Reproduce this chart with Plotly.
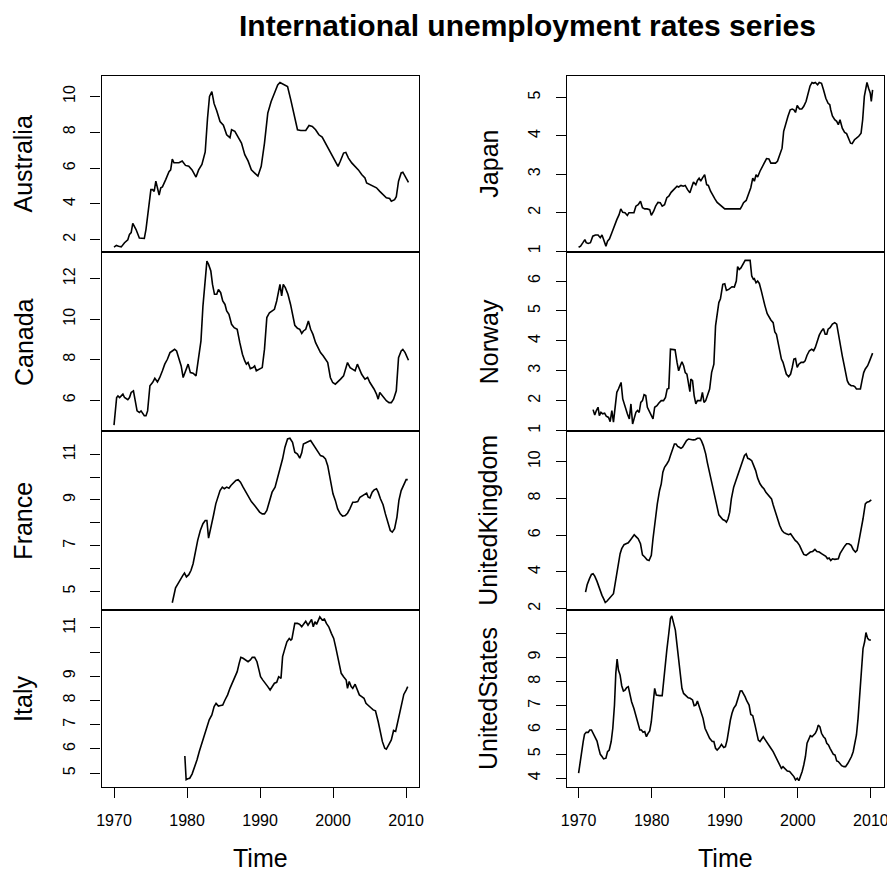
import plotly.graph_objects as go

title_text = "International unemployment rates series"
x_label = "Time"
x_ticks = [1970, 1980, 1990, 2000, 2010]

# ---------------- data (year, rate) ----------------
australia_t = [1970.00, 1970.32, 1970.63, 1970.99, 1971.44, 1971.89, 1972.12, 1972.35, 1972.57, 1973.02,
               1973.47, 1974.15, 1974.38, 1974.83, 1975.05, 1975.28, 1975.50, 1975.73, 1975.95, 1976.18,
               1976.41, 1976.63, 1977.08, 1977.53, 1977.76, 1977.98, 1978.21, 1978.89, 1979.34, 1979.79,
               1980.24, 1980.69, 1981.23, 1981.59, 1982.04, 1982.49, 1982.81, 1983.08, 1983.40, 1983.71,
               1984.07, 1984.52, 1984.98, 1985.43, 1985.88, 1986.10, 1986.55, 1987.00, 1987.46, 1987.91,
               1988.36, 1988.81, 1989.49, 1989.71, 1990.16, 1990.61, 1991.06, 1991.52, 1991.97, 1992.42,
               1992.73, 1993.32, 1993.77, 1994.22, 1994.68, 1995.13, 1995.58, 1996.26, 1996.71, 1997.16,
               1997.61, 1998.06, 1998.51, 1998.96, 1999.41, 1999.86, 2000.31, 2000.68, 2000.99, 2001.44,
               2001.75, 2002.11, 2002.56, 2003.02, 2003.47, 2003.92, 2004.37, 2004.60, 2005.05, 2005.50,
               2005.95, 2006.40, 2006.85, 2007.30, 2007.75, 2007.98, 2008.43, 2008.66, 2008.97, 2009.33,
               2009.56, 2010.01, 2010.33]
australia_v = [1.59, 1.68, 1.64, 1.60, 1.83, 2.00, 2.30, 2.40, 2.91, 2.57,
               2.10, 2.07, 2.58, 4.24, 4.80, 4.80, 4.70, 5.27, 4.90, 4.50,
               4.90, 4.95, 5.36, 5.80, 5.90, 6.50, 6.30, 6.30, 6.40, 6.15,
               6.10, 5.90, 5.50, 5.90, 6.20, 6.90, 8.80, 10.00, 10.27, 9.60,
               9.20, 8.60, 8.40, 7.86, 7.70, 8.14, 8.05, 7.70, 7.40, 6.75,
               6.40, 5.90, 5.64, 5.55, 6.10, 7.40, 9.07, 9.72, 10.18, 10.65,
               10.78, 10.65, 10.55, 9.80, 8.90, 8.14, 8.10, 8.10, 8.38, 8.33,
               8.14, 7.86, 7.73, 7.40, 7.03, 6.75, 6.38, 6.10, 6.38, 6.84,
               6.88, 6.56, 6.29, 6.10, 5.90, 5.64, 5.45, 5.17, 5.08, 5.00,
               4.90, 4.70, 4.52, 4.34, 4.30, 4.15, 4.24, 4.40, 5.27, 5.73,
               5.77, 5.45, 5.20]

canada_t = [1970.00, 1970.18, 1970.36, 1970.54, 1970.77, 1970.99, 1971.22, 1971.44, 1971.89, 1972.12,
            1972.35, 1972.66, 1972.89, 1973.16, 1973.47, 1973.70, 1974.15, 1974.38, 1974.60, 1974.92,
            1975.28, 1975.59, 1975.95, 1976.27, 1976.63, 1976.95, 1977.31, 1977.67, 1977.98, 1978.30,
            1978.57, 1978.89, 1979.20, 1979.47, 1979.79, 1980.15, 1980.46, 1980.83, 1981.23, 1981.50,
            1981.91, 1982.18, 1982.49, 1982.72, 1982.95, 1983.26, 1983.49, 1983.76, 1984.07, 1984.30,
            1984.61, 1984.89, 1985.20, 1985.43, 1985.74, 1986.10, 1986.46, 1986.87, 1987.23, 1987.59,
            1987.91, 1988.13, 1988.36, 1988.67, 1989.03, 1989.26, 1989.49, 1989.94, 1990.30, 1990.61,
            1990.93, 1991.29, 1991.65, 1991.97, 1992.28, 1992.55, 1992.73, 1992.96, 1993.18, 1993.46,
            1993.82, 1994.18, 1994.45, 1994.76, 1995.13, 1995.44, 1995.71, 1995.94, 1996.26, 1996.62,
            1996.93, 1997.25, 1997.61, 1997.97, 1998.28, 1998.64, 1998.96, 1999.27, 1999.63, 1999.95,
            2000.31, 2000.68, 2001.03, 2001.44, 2001.67, 2001.98, 2002.34, 2002.70, 2003.02, 2003.33,
            2003.56, 2003.92, 2004.37, 2004.73, 2005.05, 2005.36, 2005.63, 2005.95, 2006.18, 2006.40,
            2006.72, 2006.99, 2007.30, 2007.66, 2007.98, 2008.29, 2008.66, 2008.97, 2009.33, 2009.56,
            2009.87, 2010.33]
canada_v = [4.77, 5.56, 6.13, 6.21, 6.13, 6.21, 6.30, 6.13, 6.02, 6.13,
            6.38, 6.46, 5.97, 5.47, 5.39, 5.47, 5.23, 5.23, 5.47, 6.71,
            6.87, 7.08, 6.90, 7.12, 7.45, 7.78, 8.02, 8.35, 8.43, 8.51,
            8.43, 8.10, 7.69, 7.12, 7.45, 7.78, 7.36, 7.33, 7.20, 7.86,
            8.93, 10.65, 12.13, 12.87, 12.71, 12.38, 11.72, 11.23, 11.23, 11.47,
            11.31, 10.90, 10.73, 10.41, 10.24, 9.75, 9.58, 9.50, 8.84, 8.27,
            7.94, 7.78, 7.86, 7.56, 7.61, 7.69, 7.45, 7.56, 7.61, 8.52,
            10.08, 10.32, 10.41, 10.49, 10.90, 11.47, 11.72, 11.15, 11.72, 11.56,
            11.23, 10.73, 10.24, 9.70, 9.55, 9.50, 9.30, 9.42, 9.50, 9.91,
            9.50, 9.25, 8.84, 8.60, 8.35, 8.19, 8.02, 7.86, 7.12, 6.87,
            6.79, 6.90, 7.04, 7.20, 7.53, 7.86, 7.61, 7.53, 7.45, 7.78,
            7.61, 7.28, 7.04, 7.12, 6.87, 6.71, 6.54, 6.30, 6.05, 6.38,
            6.25, 6.13, 5.97, 5.88, 5.88, 6.05, 6.46, 8.10, 8.43, 8.51,
            8.35, 7.97]

france_t = [1977.98, 1978.21, 1978.43, 1978.75, 1979.11, 1979.43, 1979.65, 1979.92, 1980.24, 1980.55,
            1980.83, 1981.14, 1981.46, 1981.82, 1982.18, 1982.49, 1982.72, 1982.95, 1983.26, 1983.62,
            1983.94, 1984.21, 1984.52, 1984.84, 1985.11, 1985.43, 1985.74, 1986.01, 1986.33, 1986.69,
            1987.00, 1987.32, 1987.68, 1988.04, 1988.36, 1988.81, 1989.26, 1989.62, 1989.94, 1990.30,
            1990.61, 1990.93, 1991.29, 1991.65, 1992.06, 1992.42, 1992.73, 1993.09, 1993.41, 1993.77,
            1994.09, 1994.45, 1994.76, 1995.13, 1995.44, 1995.71, 1995.94, 1996.26, 1996.57, 1996.93,
            1997.25, 1997.61, 1997.97, 1998.28, 1998.64, 1998.96, 1999.27, 1999.63, 1999.99, 2000.31,
            2000.63, 2000.99, 2001.30, 2001.67, 2001.98, 2002.30, 2002.70, 2003.02, 2003.38, 2003.69,
            2004.01, 2004.37, 2004.60, 2004.82, 2005.05, 2005.36, 2005.63, 2005.95, 2006.18, 2006.49,
            2006.85, 2007.17, 2007.53, 2007.84, 2008.11, 2008.43, 2008.75, 2009.02, 2009.33, 2009.69,
            2010.01, 2010.23]
france_v = [4.50, 4.83, 5.15, 5.33, 5.55, 5.70, 5.80, 5.63, 5.73, 5.92,
            6.21, 6.72, 7.23, 7.66, 7.96, 8.10, 8.10, 7.33, 7.74, 8.32,
            8.83, 9.12, 9.41, 9.56, 9.49, 9.56, 9.51, 9.63, 9.73, 9.85,
            9.89, 9.78, 9.56, 9.34, 9.15, 8.93, 8.76, 8.61, 8.47, 8.39,
            8.39, 8.54, 8.90, 9.34, 9.56, 9.99, 10.29, 10.80, 11.31, 11.67,
            11.70, 11.52, 11.09, 11.01, 10.83, 11.06, 11.45, 11.52, 11.55, 11.60,
            11.45, 11.26, 11.09, 10.94, 10.90, 10.80, 10.50, 9.85, 9.27, 8.98,
            8.61, 8.39, 8.29, 8.32, 8.42, 8.61, 8.90, 8.90, 8.93, 9.12,
            9.19, 9.27, 9.30, 9.12, 9.09, 9.34, 9.44, 9.49, 9.34, 9.05,
            8.79, 8.39, 7.96, 7.66, 7.59, 7.74, 8.25, 8.98, 9.41, 9.70,
            9.89, 9.89]

italy_t = [1979.70, 1979.88, 1980.10, 1980.37, 1980.69, 1981.01, 1981.37, 1981.68, 1982.04, 1982.36,
           1982.72, 1983.04, 1983.40, 1983.71, 1983.98, 1984.30, 1984.61, 1984.89, 1985.20, 1985.56,
           1985.88, 1986.24, 1986.55, 1986.87, 1987.14, 1987.37, 1987.68, 1988.04, 1988.36, 1988.67,
           1988.94, 1989.26, 1989.58, 1989.85, 1990.07, 1990.39, 1990.75, 1991.06, 1991.38, 1991.65,
           1991.97, 1992.28, 1992.55, 1992.87, 1993.09, 1993.41, 1993.68, 1994.00, 1994.22, 1994.36,
           1994.58, 1994.76, 1995.13, 1995.44, 1995.71, 1996.03, 1996.26, 1996.57, 1996.84, 1997.06,
           1997.29, 1997.52, 1997.74, 1997.97, 1998.19, 1998.51, 1998.82, 1999.09, 1999.41, 1999.77,
           2000.09, 2000.40, 2000.76, 2001.12, 2001.44, 2001.80, 2001.98, 2002.21, 2002.48, 2002.70,
           2003.02, 2003.33, 2003.60, 2003.92, 2004.24, 2004.51, 2004.82, 2005.18, 2005.50, 2005.81,
           2006.18, 2006.49, 2006.76, 2007.08, 2007.30, 2007.62, 2007.98, 2008.29, 2008.57, 2008.79,
           2009.11, 2009.42, 2009.69, 2010.01, 2010.23]
italy_v = [5.71, 4.73, 4.77, 4.79, 4.96, 5.23, 5.55, 5.89, 6.24, 6.58,
           6.85, 7.20, 7.40, 7.75, 7.88, 7.77, 7.79, 7.81, 8.02, 8.23,
           8.50, 8.78, 9.00, 9.19, 9.53, 9.78, 9.74, 9.67, 9.60, 9.67,
           9.78, 9.78, 9.60, 9.26, 8.98, 8.84, 8.71, 8.57, 8.43, 8.54,
           8.71, 8.75, 8.98, 8.91, 9.81, 10.15, 10.42, 10.56, 10.49, 10.53,
           10.97, 11.18, 11.18, 11.14, 11.04, 11.18, 11.27, 11.11, 11.22, 11.34,
           11.04, 11.25, 11.14, 11.27, 11.45, 11.32, 11.36, 11.18, 11.04, 10.77,
           10.56, 10.15, 9.60, 9.12, 8.98, 8.84, 8.50, 8.78, 8.57, 8.50,
           8.67, 8.43, 8.23, 8.16, 8.09, 7.88, 7.81, 7.70, 7.61, 7.57,
           7.13, 6.65, 6.30, 6.03, 5.99, 6.17, 6.37, 6.76, 6.72, 7.02,
           7.47, 7.81, 8.25, 8.43, 8.57]

japan_t = [1970.00, 1970.27, 1970.59, 1970.86, 1971.04, 1971.31, 1971.62, 1971.94, 1972.30, 1972.66,
           1972.97, 1973.20, 1973.42, 1973.74, 1973.96, 1974.23, 1974.55, 1974.91, 1975.23, 1975.54,
           1975.77, 1976.04, 1976.35, 1976.67, 1976.89, 1977.25, 1977.57, 1977.84, 1978.15, 1978.47,
           1978.74, 1979.05, 1979.37, 1979.73, 1979.95, 1980.27, 1980.54, 1980.86, 1981.17, 1981.44,
           1981.76, 1982.07, 1982.34, 1982.66, 1982.97, 1983.24, 1983.47, 1983.69, 1984.01, 1984.32,
           1984.59, 1984.91, 1985.23, 1985.45, 1985.72, 1986.04, 1986.26, 1986.49, 1986.71, 1986.94,
           1987.25, 1987.52, 1987.75, 1988.06, 1988.38, 1988.65, 1988.96, 1989.28, 1989.64, 1990.00,
           1990.32, 1990.77, 1991.22, 1991.67, 1992.12, 1992.34, 1992.57, 1992.93, 1993.24, 1993.56,
           1993.83, 1994.05, 1994.28, 1994.50, 1994.82, 1995.14, 1995.41, 1995.72, 1996.04, 1996.31,
           1996.62, 1996.94, 1997.21, 1997.52, 1997.84, 1998.06, 1998.33, 1998.65, 1998.96, 1999.23,
           1999.46, 1999.68, 1999.91, 2000.23, 2000.54, 2000.81, 2001.13, 2001.44, 2001.67, 2001.94,
           2002.16, 2002.39, 2002.70, 2002.93, 2003.24, 2003.51, 2003.83, 2004.14, 2004.37, 2004.50,
           2004.73, 2005.05, 2005.32, 2005.54, 2005.77, 2006.08, 2006.40, 2006.67, 2006.89, 2007.21,
           2007.43, 2007.75, 2008.02, 2008.33, 2008.65, 2008.87, 2009.10, 2009.32, 2009.46, 2009.68,
           2009.91, 2010.05, 2010.23]
japan_v = [1.10, 1.13, 1.22, 1.30, 1.22, 1.20, 1.22, 1.39, 1.42, 1.42,
           1.35, 1.42, 1.30, 1.13, 1.26, 1.32, 1.48, 1.69, 1.82, 1.95,
           2.10, 2.01, 2.00, 1.93, 2.00, 2.00, 2.00, 2.17, 2.21, 2.30,
           2.13, 2.10, 2.10, 2.08, 1.93, 2.04, 2.17, 2.27, 2.26, 2.17,
           2.21, 2.39, 2.43, 2.53, 2.60, 2.65, 2.69, 2.67, 2.71, 2.69,
           2.71, 2.60, 2.52, 2.65, 2.80, 2.73, 2.84, 2.90, 2.82, 2.90,
           2.99, 2.73, 2.71, 2.56, 2.47, 2.36, 2.27, 2.21, 2.17, 2.10,
           2.10, 2.10, 2.10, 2.10, 2.10, 2.17, 2.26, 2.32, 2.47, 2.65,
           2.90, 2.82, 2.99, 2.93, 3.08, 3.21, 3.31, 3.41, 3.40, 3.29,
           3.29, 3.29, 3.34, 3.51, 3.68, 4.12, 4.33, 4.51, 4.68, 4.70,
           4.68, 4.61, 4.79, 4.70, 4.70, 4.77, 4.90, 5.11, 5.30, 5.39,
           5.37, 5.39, 5.33, 5.39, 5.37, 5.20, 4.98, 4.85, 4.81, 4.68,
           4.52, 4.42, 4.38, 4.29, 4.42, 4.20, 4.09, 4.06, 3.94, 3.81,
           3.80, 3.90, 3.94, 3.99, 4.07, 4.42, 5.03, 5.29, 5.39, 5.24,
           5.11, 4.90, 5.20]

norway_t = [1971.98, 1972.21, 1972.43, 1972.66, 1972.84, 1973.06, 1973.29, 1973.56, 1973.78, 1974.10,
            1974.32, 1974.55, 1974.77, 1975.00, 1975.23, 1975.45, 1975.68, 1975.81, 1976.04, 1976.35,
            1976.67, 1976.94, 1977.16, 1977.39, 1977.61, 1977.84, 1978.06, 1978.29, 1978.51, 1978.74,
            1978.96, 1979.19, 1979.41, 1979.64, 1979.86, 1980.18, 1980.41, 1980.72, 1980.99, 1981.31,
            1981.62, 1981.89, 1982.12, 1982.34, 1982.57, 1982.88, 1983.20, 1983.47, 1983.69, 1983.92,
            1984.14, 1984.37, 1984.59, 1984.82, 1985.00, 1985.23, 1985.36, 1985.59, 1985.81, 1986.04,
            1986.26, 1986.49, 1986.71, 1986.94, 1987.16, 1987.39, 1987.61, 1987.93, 1988.20, 1988.51,
            1988.74, 1988.96, 1989.19, 1989.41, 1989.73, 1990.00, 1990.23, 1990.54, 1990.77, 1990.99,
            1991.31, 1991.58, 1991.76, 1991.98, 1992.21, 1992.48, 1992.79, 1993.11, 1993.47, 1993.69,
            1993.92, 1994.05, 1994.28, 1994.50, 1994.73, 1994.95, 1995.18, 1995.50, 1995.81, 1996.08,
            1996.31, 1996.62, 1996.85, 1997.07, 1997.30, 1997.52, 1997.75, 1997.97, 1998.20, 1998.42,
            1998.74, 1999.01, 1999.23, 1999.46, 1999.68, 1999.91, 2000.14, 2000.45, 2000.77, 2000.99,
            2001.26, 2001.58, 2001.89, 2002.16, 2002.39, 2002.70, 2002.93, 2003.24, 2003.51, 2003.74,
            2003.96, 2004.14, 2004.41, 2004.73, 2005.05, 2005.32, 2005.54, 2005.86, 2006.08, 2006.31,
            2006.53, 2006.76, 2006.98, 2007.30, 2007.57, 2007.79, 2008.02, 2008.33, 2008.56, 2008.78,
            2009.01, 2009.23, 2009.55, 2009.82, 2010.05, 2010.23]
norway_v = [1.70, 1.52, 1.67, 1.78, 1.50, 1.61, 1.56, 1.58, 1.48, 1.44,
            1.30, 1.67, 1.28, 1.83, 2.28, 2.39, 2.56, 2.61, 2.06, 1.78,
            1.56, 1.39, 1.89, 1.22, 1.39, 1.61, 1.67, 1.61, 1.94, 2.00,
            2.20, 2.17, 1.78, 1.67, 1.56, 1.39, 1.78, 1.83, 1.92, 2.00,
            2.00, 2.11, 2.39, 2.41, 3.72, 3.70, 3.70, 3.28, 3.00, 3.17,
            3.30, 3.17, 2.94, 2.89, 2.61, 2.30, 2.72, 2.67, 2.17, 1.89,
            2.00, 2.00, 2.00, 2.28, 1.94, 2.00, 2.17, 2.39, 2.94, 3.22,
            4.50, 4.83, 5.28, 5.41, 5.89, 5.91, 5.69, 5.72, 5.78, 5.81,
            5.80, 6.00, 6.48, 6.39, 6.44, 6.56, 6.69, 6.69, 6.69, 6.17,
            6.06, 6.08, 5.94, 6.00, 5.92, 5.72, 5.44, 5.17, 4.91, 4.78,
            4.70, 4.61, 4.30, 4.22, 3.94, 3.61, 3.39, 3.28, 3.06, 2.89,
            2.80, 2.89, 3.11, 3.39, 3.41, 3.11, 3.22, 3.28, 3.28, 3.33,
            3.52, 3.67, 3.72, 3.67, 3.78, 4.00, 4.19, 4.33, 4.41, 4.22,
            4.22, 4.39, 4.44, 4.56, 4.61, 4.56, 4.22, 3.83, 3.50, 3.22,
            2.89, 2.67, 2.56, 2.50, 2.50, 2.47, 2.39, 2.39, 2.39, 2.67,
            2.94, 3.06, 3.17, 3.33, 3.50, 3.59]

uk_t = [1970.95, 1971.17, 1971.49, 1971.76, 1971.98, 1972.21, 1972.52, 1972.75, 1972.97, 1973.20,
        1973.42, 1973.65, 1973.87, 1974.19, 1974.46, 1974.77, 1975.00, 1975.23, 1975.45, 1975.68,
        1975.90, 1976.22, 1976.49, 1976.80, 1977.12, 1977.39, 1977.61, 1977.93, 1978.15, 1978.47,
        1978.74, 1979.05, 1979.37, 1979.64, 1979.95, 1980.18, 1980.50, 1980.77, 1981.08, 1981.31,
        1981.53, 1981.76, 1982.07, 1982.34, 1982.57, 1982.88, 1983.11, 1983.33, 1983.56, 1983.78,
        1984.01, 1984.23, 1984.46, 1984.77, 1985.05, 1985.36, 1985.68, 1985.95, 1986.26, 1986.58,
        1986.80, 1987.07, 1987.39, 1987.61, 1987.93, 1988.20, 1988.51, 1988.74, 1988.96, 1989.19,
        1989.41, 1989.73, 1990.00, 1990.23, 1990.45, 1990.68, 1990.90, 1991.22, 1991.53, 1991.76,
        1992.12, 1992.43, 1992.70, 1992.93, 1993.15, 1993.38, 1993.69, 1993.92, 1994.23, 1994.50,
        1994.82, 1995.14, 1995.36, 1995.63, 1995.95, 1996.17, 1996.40, 1996.62, 1996.94, 1997.21,
        1997.52, 1997.84, 1998.11, 1998.42, 1998.74, 1999.01, 1999.32, 1999.64, 1999.91, 2000.23,
        2000.54, 2000.81, 2001.13, 2001.44, 2001.71, 2002.03, 2002.34, 2002.61, 2002.93, 2003.24,
        2003.51, 2003.83, 2004.05, 2004.28, 2004.50, 2004.73, 2005.05, 2005.32, 2005.54, 2005.77,
        2006.08, 2006.40, 2006.67, 2006.98, 2007.30, 2007.57, 2007.88, 2008.11, 2008.33, 2008.65,
        2008.92, 2009.23, 2009.46, 2009.77, 2010.05]
uk_v = [2.90, 3.30, 3.63, 3.86, 3.90, 3.77, 3.48, 3.18, 2.90, 2.72,
        2.54, 2.33, 2.40, 2.54, 2.63, 2.81, 3.36, 3.99, 4.44, 4.99,
        5.26, 5.48, 5.53, 5.58, 5.75, 5.89, 6.02, 5.89, 5.80, 5.53,
        4.93, 4.81, 4.66, 4.62, 4.90, 5.80, 6.89, 7.70, 8.43, 8.79,
        9.42, 9.69, 9.87, 10.05, 10.33, 10.69, 10.96, 10.96, 10.83, 10.78,
        10.72, 10.78, 10.96, 11.14, 11.23, 11.19, 11.18, 11.19, 11.27, 11.27,
        11.14, 10.87, 10.42, 9.96, 9.42, 8.79, 8.43, 7.97, 7.52, 7.10,
        6.98, 6.85, 6.80, 6.71, 6.89, 7.25, 7.97, 8.61, 8.97, 9.24,
        9.64, 9.96, 10.33, 10.42, 10.18, 10.14, 10.05, 9.82, 9.51, 9.10,
        8.79, 8.61, 8.52, 8.33, 8.19, 8.06, 7.97, 7.65, 7.25, 6.89,
        6.52, 6.25, 6.13, 6.07, 6.02, 6.07, 5.89, 5.71, 5.62, 5.44,
        5.17, 4.95, 4.90, 4.99, 5.08, 5.11, 5.22, 5.11, 5.08, 4.99,
        4.90, 4.84, 4.71, 4.75, 4.62, 4.71, 4.68, 4.71, 4.71, 4.99,
        5.22, 5.40, 5.53, 5.53, 5.44, 5.22, 5.08, 5.17, 5.62, 6.25,
        6.89, 7.70, 7.79, 7.83, 7.92]

us_t = [1970.00, 1970.18, 1970.41, 1970.63, 1970.81, 1971.04, 1971.31, 1971.53, 1971.76, 1971.98,
        1972.30, 1972.52, 1972.75, 1972.97, 1973.20, 1973.42, 1973.74, 1973.96, 1974.19, 1974.46,
        1974.68, 1974.91, 1975.09, 1975.27, 1975.45, 1975.68, 1975.90, 1976.13, 1976.35, 1976.58,
        1976.80, 1977.03, 1977.25, 1977.57, 1977.84, 1978.15, 1978.38, 1978.60, 1978.83, 1979.05,
        1979.28, 1979.50, 1979.73, 1979.95, 1980.18, 1980.41, 1980.63, 1980.86, 1981.08, 1981.44,
        1981.76, 1982.07, 1982.34, 1982.57, 1982.75, 1983.02, 1983.24, 1983.47, 1983.69, 1983.92,
        1984.14, 1984.37, 1984.68, 1985.00, 1985.27, 1985.59, 1985.81, 1986.04, 1986.26, 1986.49,
        1986.71, 1987.03, 1987.30, 1987.61, 1987.93, 1988.29, 1988.51, 1988.74, 1988.96, 1989.28,
        1989.55, 1989.86, 1990.09, 1990.32, 1990.54, 1990.77, 1990.99, 1991.22, 1991.53, 1991.80,
        1992.12, 1992.34, 1992.57, 1992.79, 1993.02, 1993.33, 1993.56, 1993.83, 1994.14, 1994.37,
        1994.59, 1994.82, 1995.05, 1995.27, 1995.50, 1995.72, 1996.04, 1996.31, 1996.62, 1996.94,
        1997.21, 1997.52, 1997.75, 1997.97, 1998.29, 1998.56, 1998.87, 1999.19, 1999.46, 1999.68,
        1999.91, 2000.14, 2000.36, 2000.59, 2000.81, 2001.04, 2001.26, 2001.49, 2001.71, 2001.94,
        2002.16, 2002.39, 2002.61, 2002.79, 2003.02, 2003.24, 2003.51, 2003.74, 2003.96, 2004.19,
        2004.41, 2004.64, 2004.86, 2005.09, 2005.32, 2005.54, 2005.77, 2005.99, 2006.31, 2006.53,
        2006.85, 2007.12, 2007.34, 2007.57, 2007.79, 2008.02, 2008.24, 2008.47, 2008.69, 2008.92,
        2009.14, 2009.32, 2009.55, 2009.77, 2010.00]
us_v = [4.21, 4.62, 5.03, 5.52, 5.82, 5.90, 5.90, 6.00, 6.00, 5.86,
        5.72, 5.54, 5.24, 4.99, 4.90, 4.80, 4.83, 5.10, 5.17, 5.52,
        6.07, 7.03, 8.34, 8.93, 8.48, 8.27, 7.83, 7.61, 7.65, 7.75,
        7.79, 7.47, 7.17, 6.89, 6.55, 6.20, 6.00, 6.00, 5.90, 5.93,
        5.72, 5.86, 5.96, 6.34, 7.03, 7.72, 7.44, 7.42, 7.42, 7.42,
        8.55, 9.30, 9.99, 10.61, 10.72, 10.40, 10.13, 9.51, 8.82, 8.13,
        7.72, 7.51, 7.44, 7.33, 7.31, 7.24, 7.00, 7.03, 7.20, 6.96,
        6.75, 6.48, 6.07, 5.86, 5.65, 5.52, 5.52, 5.24, 5.17, 5.27,
        5.40, 5.27, 5.31, 5.58, 6.07, 6.41, 6.69, 6.89, 7.03, 7.31,
        7.61, 7.62, 7.51, 7.37, 7.20, 7.03, 6.64, 6.59, 6.20, 5.93,
        5.58, 5.52, 5.65, 5.72, 5.61, 5.52, 5.40, 5.24, 5.10, 4.90,
        4.69, 4.55, 4.41, 4.48, 4.39, 4.30, 4.28, 4.18, 4.07, 3.93,
        4.00, 3.90, 4.07, 4.28, 4.55, 4.90, 5.45, 5.65, 5.76, 5.72,
        5.79, 5.86, 6.00, 6.20, 6.13, 5.86, 5.72, 5.65, 5.45, 5.38,
        5.24, 5.10, 4.99, 4.96, 4.72, 4.69, 4.62, 4.52, 4.48, 4.48,
        4.62, 4.76, 4.90, 5.10, 5.38, 5.79, 6.48, 7.44, 8.48, 9.37,
        9.65, 10.03, 9.79, 9.72, 9.72]

left_names = ["Australia", "Canada", "France", "Italy"]
right_names = ["Japan", "Norway", "UnitedKingdom", "UnitedStates"]
series_t = [australia_t, canada_t, france_t, italy_t, japan_t, norway_t, uk_t, us_t]
series_v = [australia_v, canada_v, france_v, italy_v, japan_v, norway_v, uk_v, us_v]

y_tickvals = [[2, 4, 6, 8, 10], [6, 8, 10, 12], [5, 6, 7, 8, 9, 10, 11], [5, 6, 7, 8, 9, 10, 11],
              [1, 2, 3, 4, 5], [1, 2, 3, 4, 5, 6], [2, 4, 6, 8, 10], [4, 5, 6, 7, 8, 9, 10]]
y_ticktext = [["2", "4", "6", "8", "10"], ["6", "8", "10", "12"],
              ["5", "", "7", "", "9", "", "11"], ["5", "6", "7", "8", "9", "", "11"],
              ["1", "2", "3", "4", "5"], ["1", "2", "3", "4", "5", "6"],
              ["2", "4", "6", "8", "10"], ["4", "5", "6", "7", "8", "9", ""]]

# ---------------- layout (pixel geometry; page body has an 8px margin) ----------------
OFF = 8
W, H = 895 - OFF, 873 - OFF


def fx(p):
    return (p - OFF) / W


def fy(p):
    return 1 - (p - OFF) / H


col_px = [(96.7, 418.0), (567.7, 889.3)]
row_px = [(75.7, 253.0), (253.0, 431.7), (431.7, 611.0), (611.0, 789.0)]
x_ranges = [[1968.30, 2011.76], [1968.38, 2011.84]]
y_ranges = [[1.29, 11.17], [4.49, 13.30], [4.20, 12.03], [4.42, 11.75],
            [0.966, 5.571], [0.995, 6.957], [1.946, 11.68], [3.63, 10.98]]

FONT = "Liberation Sans, Arial, sans-serif"
fig = go.Figure()
layout = {}
names = left_names + right_names
for i in range(8):
    col, row = divmod(i, 4)
    n = i + 1
    sx = "" if n == 1 else str(n)
    fig.add_trace(go.Scatter(x=series_t[i], y=series_v[i], mode="lines",
                             line=dict(color="black", width=1.6),
                             xaxis="x" + sx, yaxis="y" + sx, showlegend=False,
                             hoverinfo="skip"))
    bottom = row == 3
    layout["xaxis" + sx] = dict(
        domain=[fx(col_px[col][0]), fx(col_px[col][1])],
        range=x_ranges[col], anchor="y" + sx,
        showline=True, mirror=True, linecolor="black", linewidth=1.4,
        showgrid=False, zeroline=False,
        ticks="outside" if bottom else "", ticklen=10, tickwidth=1.4, tickcolor="black",
        tickvals=x_ticks, showticklabels=bottom,
        tickfont=dict(family=FONT, size=16, color="black"),
        ticklabelstandoff=8,
    )
    layout["yaxis" + sx] = dict(
        domain=[fy(row_px[row][1]), fy(row_px[row][0])],
        range=y_ranges[i], anchor="x" + sx,
        showline=True, mirror=True, linecolor="black", linewidth=1.4,
        showgrid=False, zeroline=False,
        ticks="outside", ticklen=10, tickwidth=1.4, tickcolor="black",
        tickvals=y_tickvals[i], ticktext=y_ticktext[i], tickangle=-90,
        tickfont=dict(family=FONT, size=16, color="black"),
        ticklabelstandoff=9,
    )

annotations = []
title_x = [17.6, 488.6]
for i, name in enumerate(names):
    col, row = divmod(i, 4)
    yc = (row_px[row][0] + row_px[row][1]) / 2
    annotations.append(dict(text=name, x=fx(title_x[col]), y=fy(yc), xref="paper", yref="paper",
                            showarrow=False, textangle=-90, xanchor="center", yanchor="middle",
                            font=dict(family=FONT, size=25, color="black")))
for col in range(2):
    xc = (col_px[col][0] + col_px[col][1]) / 2
    annotations.append(dict(text=x_label, x=fx(xc), y=fy(859.5), xref="paper", yref="paper",
                            showarrow=False, xanchor="center", yanchor="middle",
                            font=dict(family=FONT, size=25, color="black")))
annotations.append(dict(text="<b>" + title_text + "</b>", x=fx(528), y=fy(26),
                        xref="paper", yref="paper", showarrow=False,
                        xanchor="center", yanchor="middle",
                        font=dict(family=FONT, size=30, color="black")))

fig.update_layout(**layout)
fig.update_layout(width=W, height=H, margin=dict(l=0, r=0, t=0, b=0),
                  paper_bgcolor="white", plot_bgcolor="white",
                  annotations=annotations, showlegend=False)
fig.write_html("out.html")
